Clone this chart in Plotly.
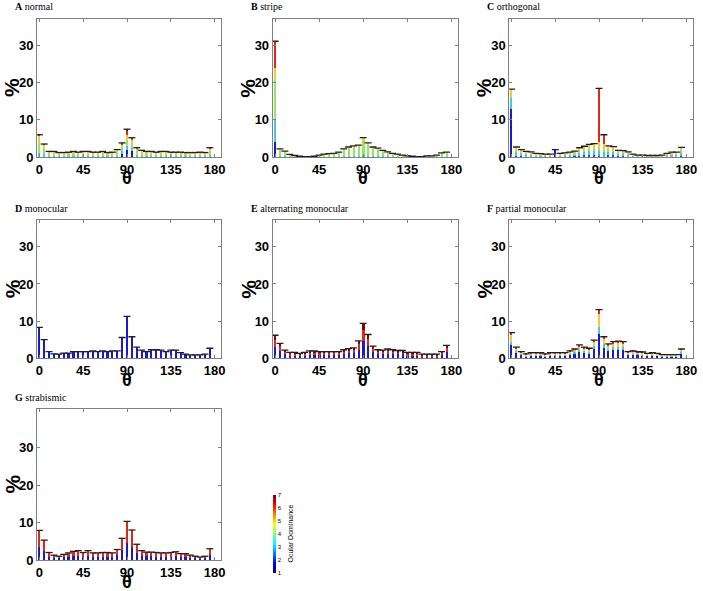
import plotly.graph_objects as go

# ---------------- data ----------------
angles = list(range(0, 180, 5))  # 36 orientation bins
od_classes = [1, 2, 3, 4, 5, 6, 7]
od_colors = ['#1a1acd', '#0050ff', '#40c8f0', '#90e860', '#f5c830', '#e02818', '#7a0a0a']

A_top = [6.0, 3.5, 1.5, 1.5, 1.2, 1.2, 1.3, 1.5, 1.3, 1.5, 1.5, 1.3, 1.3, 1.5, 1.2, 1.3, 2.0, 3.8,
         7.5, 5.2, 2.5, 1.8, 1.5, 1.5, 1.3, 1.5, 1.5, 1.3, 1.3, 1.3, 1.2, 1.2, 1.2, 1.3, 1.2, 2.5]
A_frac = [0.0, 0.0, 0.2, 0.45, 0.3, 0.05, 0.0]
A_bins = {85: [1.0, 0, 0.5, 1.0, 0.8, 0.5, 0], 90: [2.0, 0, 1.0, 1.5, 1.5, 1.2, 0.3],
          95: [1.5, 0, 0.8, 1.2, 1.0, 0.7, 0]}

B_top = [31.2, 2.2, 1.6, 0.7, 0.4, 0.2, 0.1, 0.1, 0.2, 0.5, 0.8, 0.9, 1.0, 1.3, 2.2, 2.7, 3.0, 3.2,
         5.2, 3.8, 2.7, 2.4, 1.8, 1.4, 1.0, 0.8, 0.5, 0.3, 0.2, 0.1, 0.1, 0.3, 0.3, 0.5, 1.1, 1.3]
B_frac = [0.0, 0.0, 0.1, 0.75, 0.15, 0.0, 0.0]
B_bins = {0: [4.0, 0, 6.0, 11.0, 3.0, 7.2, 0]}

C_top = [18.3, 2.7, 2.0, 1.5, 1.4, 1.0, 0.9, 0.8, 0.8, 2.0, 1.0, 1.1, 1.3, 1.6, 2.5, 2.9, 3.4, 3.6,
         18.5, 6.0, 3.0, 2.8, 1.8, 1.7, 1.4, 0.8, 0.5, 0.5, 0.4, 0.4, 0.4, 0.5, 1.0, 1.3, 1.3, 2.6]
C_frac = [0.05, 0.1, 0.35, 0.1, 0.4, 0.0, 0.0]
C_bins = {0: [13.0, 0, 3.0, 0, 2.3, 0, 0], 45: [2.0, 0, 0, 0, 0, 0, 0],
          90: [0.3, 0, 1.5, 0.5, 1.7, 14.5, 0], 95: [0, 0, 1.5, 0.5, 1.5, 2.5, 0]}

D_top = [8.3, 5.0, 1.8, 1.2, 1.1, 1.4, 1.4, 1.8, 1.8, 1.8, 1.8, 2.0, 1.8, 2.0, 1.8, 2.0, 2.0, 5.6,
         11.3, 5.8, 3.0, 2.2, 1.8, 2.3, 2.3, 2.2, 1.8, 2.2, 2.2, 1.5, 1.1, 0.9, 0.9, 0.9, 1.1, 2.7]
D_frac = [1.0, 0, 0, 0, 0, 0, 0]

E_top = [6.2, 4.0, 2.2, 1.6, 1.6, 1.3, 1.6, 2.0, 2.0, 1.8, 1.8, 1.8, 1.8, 1.8, 2.3, 2.6, 2.8, 4.7,
         9.4, 6.4, 3.3, 2.3, 2.2, 2.5, 2.3, 2.1, 2.1, 1.6, 1.6, 1.6, 1.1, 1.1, 1.1, 1.1, 1.8, 3.5]
E_frac = [0.5, 0, 0, 0, 0, 0.3, 0.2]

F_top = [6.9, 3.0, 1.8, 1.2, 1.5, 1.5, 1.5, 1.2, 1.5, 1.5, 1.5, 1.5, 2.0, 2.5, 3.6, 3.0, 2.7, 4.9,
         13.1, 5.8, 3.9, 4.5, 4.6, 4.5, 1.8, 2.0, 1.8, 1.7, 1.3, 1.5, 1.3, 1.0, 1.0, 1.0, 1.0, 2.5]
F_frac = [0.5, 0, 0.15, 0, 0.25, 0.1, 0]

G_top = [7.9, 5.3, 2.0, 1.3, 1.0, 1.5, 1.9, 2.3, 2.5, 2.0, 2.5, 1.9, 1.9, 2.0, 2.0, 1.9, 2.8, 5.8,
         10.3, 8.0, 4.2, 2.5, 2.1, 2.1, 2.0, 1.9, 1.9, 2.0, 2.2, 1.7, 1.7, 1.3, 1.0, 0.8, 1.0, 3.0]
G_frac = [0.45, 0, 0, 0, 0, 0.55, 0]

x_ticks = [0, 45, 90, 135, 180]
y_ticks = [0, 10, 20, 30]

# ---------------- layout geometry (screen pixels) ----------------
W, H = 703, 591
cols = [(37, 221), (272.7, 457.7), (509.3, 692.7)]
rows = [(19, 157), (220, 358.3), (409, 560)]


def px(x):
    return x / W


def py(y):
    return 1 - y / H


panels = [
    ("A", "normal", A_top, A_frac, A_bins, 0, 0, 37.2),
    ("B", "stripe", B_top, B_frac, B_bins, 0, 1, 37.2),
    ("C", "orthogonal", C_top, C_frac, C_bins, 0, 2, 37.2),
    ("D", "monocular", D_top, D_frac, {}, 1, 0, 37.2),
    ("E", "alternating monocular", E_top, E_frac, {}, 1, 1, 37.2),
    ("F", "partial monocular", F_top, F_frac, {}, 1, 2, 37.2),
    ("G", "strabismic", G_top, G_frac, {}, 2, 0, 40.3),
]

fig = go.Figure()
annotations = []
lay = {}
axis_font = dict(family="Liberation Sans, Arial", size=13, color="black", weight="bold")

for idx, (letter, name, tops, frac, bins, r, c, ymax) in enumerate(panels, start=1):
    xa, ya = f"x{idx}", f"y{idx}"
    for k in range(7):
        seg = []
        for i, a in enumerate(angles):
            if a in bins:
                seg.append(bins[a][k])
            else:
                seg.append(tops[i] * frac[k])
        if sum(seg) == 0:
            continue
        fig.add_trace(go.Bar(x=angles, y=seg, width=2.2, marker=dict(color=od_colors[k], line=dict(width=0)),
                             xaxis=xa, yaxis=ya, showlegend=False, name=f"OD {od_classes[k]}"))
    fig.add_trace(go.Scatter(x=angles, y=tops, mode="markers", xaxis=xa, yaxis=ya, showlegend=False,
                             marker=dict(symbol="line-ew", size=5, line=dict(width=1.3, color="#202020"))))
    x0, x1 = cols[c]
    y0, y1 = rows[r]
    common = dict(showline=True, linecolor="#808080", linewidth=1, mirror="ticks", ticks="inside",
                  ticklen=3, tickcolor="#808080", showgrid=False, zeroline=False, tickfont=axis_font,
                  automargin=False)
    lay["xaxis" + ("" if idx == 1 else str(idx))] = dict(domain=[px(x0), px(x1)], range=[-2.4, 186.5],
                                                         tickvals=x_ticks, anchor=ya, **common)
    lay["yaxis" + ("" if idx == 1 else str(idx))] = dict(domain=[py(y1), py(y0)], range=[0, ymax],
                                                         tickvals=y_ticks, anchor=xa, **common)
    # panel title
    annotations.append(dict(x=px(x0 - 24), y=py(y0 - 12), xref="paper", yref="paper",
                            xanchor="left", yanchor="middle", showarrow=False,
                            text=f"<b>{letter}</b> {name}",
                            font=dict(family="Liberation Serif, Times New Roman", size=10, color="black")))
    # y title
    annotations.append(dict(x=px(x0 - 25), y=py((y0 + y1) / 2), xref="paper", yref="paper",
                            xanchor="center", yanchor="middle", showarrow=False, textangle=-90,
                            text="<b>%</b>", font=dict(family="Liberation Sans, Arial", size=21, color="black")))
    # x title
    annotations.append(dict(x=px(x0 + 2.3 + 87.5), y=py(y1 + 21.5), xref="paper", yref="paper",
                            xanchor="center", yanchor="middle", showarrow=False,
                            text="<b>θ</b>", font=dict(family="Liberation Sans, Arial", size=18, color="black")))

# colorbar for ocular dominance
jet = [[0, "#00008f"], [0.125, "#0000ff"], [0.375, "#00ffff"], [0.625, "#ffff00"], [0.875, "#ff0000"], [1, "#800000"]]
fig.add_trace(go.Scatter(x=[0], y=[-100], mode="markers", xaxis="x7", yaxis="y7", showlegend=False,
                         marker=dict(color=[1], cmin=1, cmax=7, colorscale=jet, showscale=True,
                                     colorbar=dict(thickness=3, thicknessmode="pixels", len=78, lenmode="pixels",
                                                   x=px(272.5), xanchor="left", y=py(533.5), yanchor="middle",
                                                   xpad=0, ypad=0, outlinewidth=0, tickvals=od_classes,
                                                   ticks="", tickfont=dict(size=6, color="black",
                                                                           family="Liberation Sans, Arial"),
                                                   title=dict(text="Ocular Dominance", side="right",
                                                              font=dict(size=7, color="black",
                                                                        family="Liberation Sans, Arial"))))))

fig.update_layout(width=W, height=H, margin=dict(l=0, r=0, t=0, b=0, autoexpand=False), barmode="stack",
                  bargap=0, plot_bgcolor="white", paper_bgcolor="white", annotations=annotations, **lay)

fig.write_html("out.html", config={"displayModeBar": False},
               post_script="document.body.style.margin='0';document.body.style.overflow='hidden';")
